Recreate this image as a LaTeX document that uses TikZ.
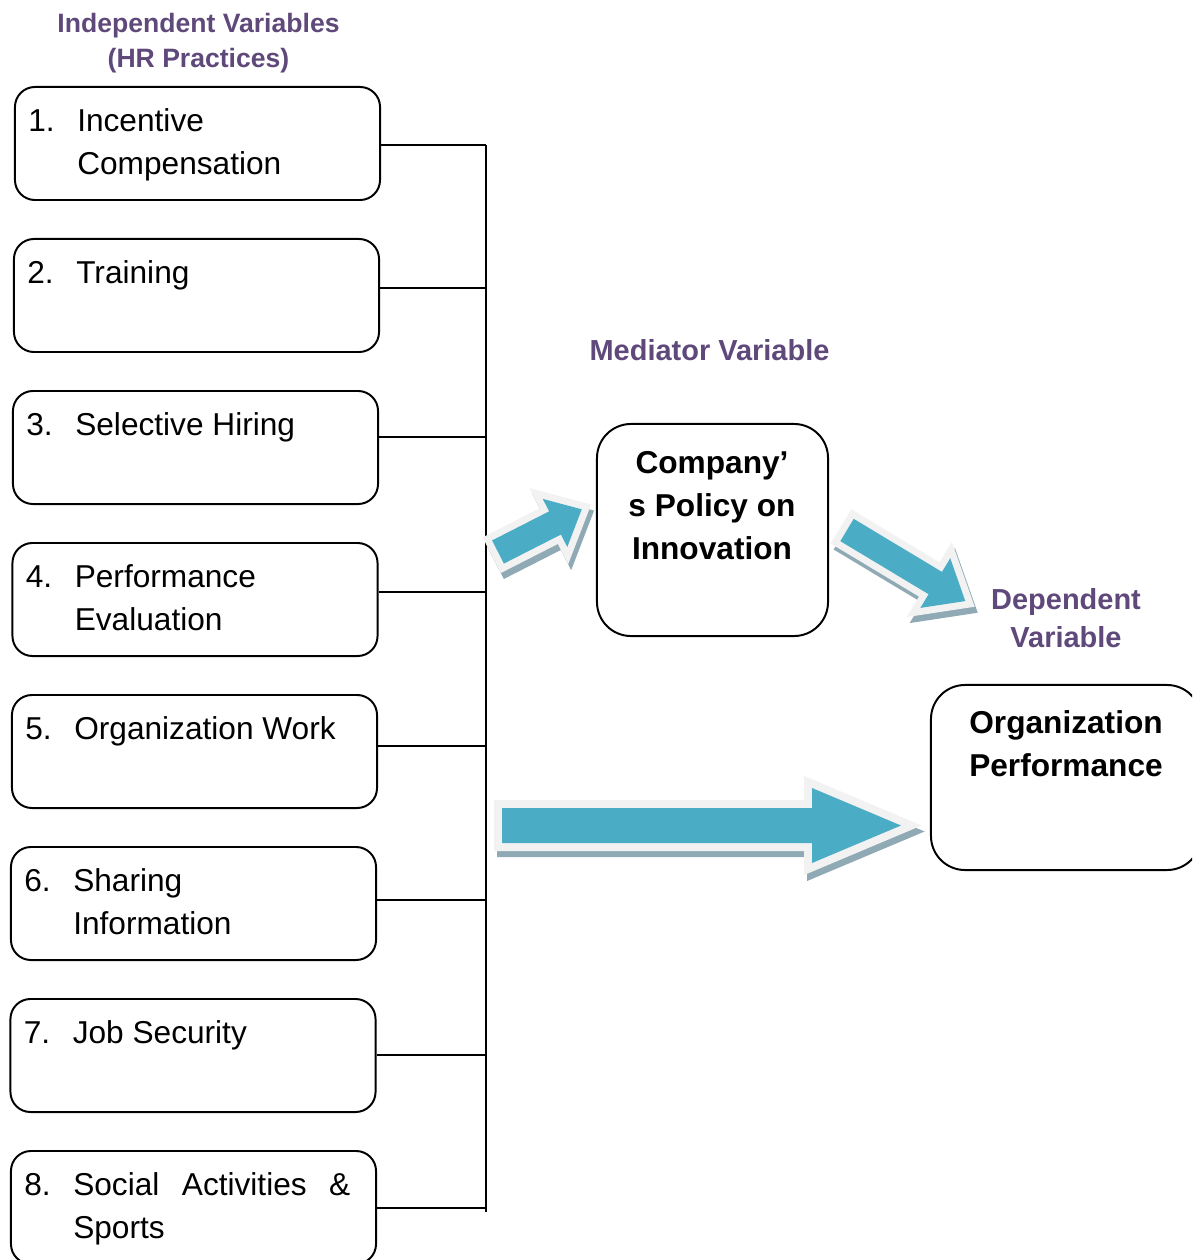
\documentclass[tikz,border=0pt]{standalone}
\usepackage{fontspec}
\setmainfont{Liberation Sans}
\usetikzlibrary{positioning}

\definecolor{hrpurple}{HTML}{5F497A}
\definecolor{arrowblue}{HTML}{4BACC6}
\definecolor{arrowrim}{HTML}{F2F2F2}
\definecolor{arrowshade}{HTML}{8FAAB4}

\newlength{\numcol}
\setlength{\numcol}{1.225cm}
% number column + item text
\newcommand{\hrentry}[3]{\begin{tabular}[t]{@{}p{\numcol}@{}l@{}}#1&#2\\&#3\end{tabular}}

% outline of a block arrow: length, body half width, head half width, head length
\newcommand{\arrowpath}[4]{(0,-#2) -- (#1-#4,-#2) -- (#1-#4,-#3) -- (#1,0) -- (#1-#4,#3) -- (#1-#4,#2) -- (0,#2) -- cycle}
% tail x, tail y, angle, length, body half, head half, head length, rim width
\newcommand{\fatarrow}[8]{%
  \begin{scope}[shift={(#1+3,#2+6)},rotate=#3]
    \filldraw[arrowshade,line width=#8] \arrowpath{#4}{#5}{#6}{#7};
  \end{scope}
  \begin{scope}[shift={(#1,#2)},rotate=#3]
    \draw[arrowrim,line width=#8] \arrowpath{#4}{#5}{#6}{#7};
    \fill[arrowblue] \arrowpath{#4}{#5}{#6}{#7};
  \end{scope}}

\begin{document}
\begin{tikzpicture}[x=0.025cm,y=-0.025cm,
  hrbox/.style={draw=black,line width=1.4pt,rounded corners=0.5cm,minimum width=9.125cm,minimum height=2.825cm,inner sep=0pt},
  hrtext/.style={anchor=base west,inner sep=0pt,font=\fontsize{22.5}{30.6}\selectfont},
  bigbox/.style={draw=black,line width=1.4pt,rounded corners=0.85cm,inner sep=0pt},
  boldtext/.style={anchor=base,align=center,inner sep=0pt,font=\fontsize{22.5}{30.4}\selectfont\bfseries},
  heading/.style={anchor=base,align=center,inner sep=0pt,text=hrpurple,font=\fontsize{20.6}{27}\selectfont\bfseries},
  link/.style={line width=1.3pt}]
  \useasboundingbox (0,0) rectangle (1192,1260);
  \clip (0,0) rectangle (1192,1260);

  % labels (multi-line nodes sit on their last baseline)
  \node[heading,font=\fontsize{18.9}{24.9}\selectfont\bfseries] (indep) at (198.5,67.5) {Independent Variables\\(HR Practices)};
  \node[heading] (medlabel) at (709.5,360.4) {Mediator Variable};
  \node[heading] (deplabel) at (1066,647.4) {Dependent\\Variable};

  % HR practices
  \coordinate (bustop) at (486,145);
  \coordinate (busbot) at (486,1212);
  \foreach \i/\cx/\ly/\txt in {
      1/197.5/145/{\hrentry{1.}{Incentive}{Compensation}},
      2/196.5/288/{\hrentry{2.}{Training}{}},
      3/195.5/437/{\hrentry{3.}{Selective Hiring}{}},
      4/195/592/{\hrentry{4.}{Performance}{Evaluation}},
      5/194.5/746/{\hrentry{5.}{Organization Work}{}},
      6/193.5/900/{\hrentry{6.}{Sharing}{Information}},
      7/193/1055/{\hrentry{7.}{Job Security}{}},
      8/193.5/1208/{\hrentry{8.}{\makebox[6.925cm][s]{Social Activities \&}}{Sports}}} {
    \node[hrbox] (b\i) at (\cx,{143.5+152*(\i-1)}) {};
    \node[hrtext] (t\i) at ({\cx-169.5},{131.3+152*(\i-1)}) {\txt};
    \coordinate (bus\i) at (486,\ly);
    \draw[link] (b\i.east |- bus\i) -- (bus\i);
  }
  \draw[link] (bustop) -- (busbot);

  % mediator and outcome
  \node[bigbox,minimum width=5.775cm,minimum height=5.3cm] (med) at (712.5,530) {};
  \node[boldtext] (medtext) at (712,559.3) {Company’\\s Policy on\\Innovation};
  \node[bigbox,minimum width=6.75cm,minimum height=4.625cm] (perf) at (1066,777.5) {};
  \node[boldtext] (perftext) at (1066,776.3) {Organization\\Performance};

  % block arrows
  \fatarrow{498}{552}{27}{94}{13}{27}{30}{0.35cm}
  \fatarrow{847}{530}{-31}{138}{13}{29}{35}{0.35cm}
  \fatarrow{502}{825.5}{0}{399}{17.5}{37.5}{89}{0.4cm}
\end{tikzpicture}
\end{document}
